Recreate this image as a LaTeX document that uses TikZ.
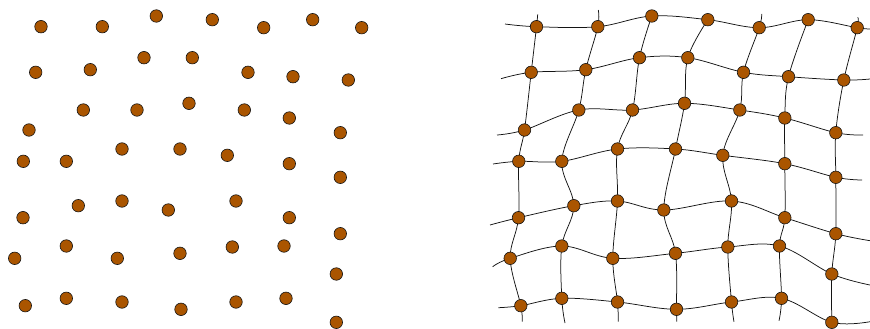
\documentclass[tikz,border=0pt]{standalone}
\usepackage{xcolor}
\usepackage{tikz}
\usetikzlibrary{backgrounds}
\definecolor{rust}{RGB}{170,85,0}
\definecolor{ink}{RGB}{20,20,20}
\tikzset{
  dot/.style  = {circle, draw=ink, fill=rust, minimum size=12.5pt,
                 inner sep=0pt, line width=0.6pt},
  mesh/.style = {draw=ink, line width=0.75pt},
}
% point set, one row per group (left picture positions)
\newcommand{\dotrows}{%
  {41/26.7, 102.3/26.7, 156.3/16, 212.3/19.7, 263.7/27.7, 312.7/19.7, 361.7/27.7},
  {35.7/72.3, 90.3/69.7, 144/57.7, 192.3/57.7, 248/72.3, 293/76.7, 348.3/80},
  {29/130, 83.3/110, 137/110, 189/103.3, 244.3/110, 289.3/118, 340.3/132.7},
  {23.3/161.3, 66.3/161.3, 122/149, 180/149, 227.3/155.3, 289.3/163.7, 340.3/177.3},
  {23/217.7, 78.3/205.7, 122/201, 168.3/210, 236/201, 289.3/217.7, 340.3/233.7},
  {14.7/258.3, 66.3/246, 117.3/258.3, 180/253.3, 232.3/247, 284/246, 336.3/274},
  {25.3/305.7, 66.3/298.3, 122/302, 181/309.3, 236/302, 286/298.3, 336.3/322.3}}

\begin{document}
\begin{tikzpicture}[x=1pt, y=-1pt]
\useasboundingbox (0,0) rectangle (870,329);

% Left: scattered points
\foreach \row [count=\r] in \dotrows {
  \foreach \x/\y [count=\c] in \row {
    \node[dot] (l-\r-\c) at (\x,\y) {};
  }
}

% Right: same points, joined into a deformed mesh
\foreach \row [count=\r] in \dotrows {
  \foreach \x/\y [count=\c] in \row {
    \node[dot] (g-\r-\c) at (\x+495.5,\y) {};
  }
}

% loose ends of the mesh lines
\coordinate (row1-w) at (505,24);    \coordinate (row1-e) at (870,29);
\coordinate (row2-w) at (501,78.7);  \coordinate (row2-e) at (870,79);
\coordinate (row3-w) at (497,135);   \coordinate (row3-e) at (863,135);
\coordinate (row4-w) at (493,164);   \coordinate (row4-e) at (862,180);
\coordinate (row5-w) at (490,225);   \coordinate (row5-e) at (870,240.7);
\coordinate (row6-w) at (492.7,266.7); \coordinate (row6-e) at (870,285);
\coordinate (row7-w) at (498.3,307.7); \coordinate (row7-e) at (870,321.7);
\coordinate (col1-n) at (537.7,14.3); \coordinate (col1-s) at (522.3,321.7);
\coordinate (col2-n) at (598.3,10);   \coordinate (col2-s) at (565,323);
\coordinate (col3-s) at (618.3,321.7);
\coordinate (col4-s) at (676.7,321.7);
\coordinate (col5-n) at (761.7,14);   \coordinate (col5-s) at (734,321.7);
\coordinate (col6-s) at (779,320.7);
\coordinate (col7-n) at (857.7,17.3);

\begin{scope}[on background layer, tension=0.6]
\foreach \r in {1,...,7}{
  \draw[mesh] plot[smooth] coordinates {(row\r-w) (g-\r-1) (g-\r-2) (g-\r-3)
    (g-\r-4) (g-\r-5) (g-\r-6) (g-\r-7) (row\r-e)};
}
\draw[mesh] plot[smooth] coordinates {(col1-n) (g-1-1) (g-2-1) (g-3-1) (g-4-1) (g-5-1) (g-6-1) (g-7-1) (col1-s)};
\draw[mesh] plot[smooth] coordinates {(col2-n) (g-1-2) (g-2-2) (g-3-2) (g-4-2) (g-5-2) (g-6-2) (g-7-2) (col2-s)};
\draw[mesh] plot[smooth] coordinates {(g-1-3) (g-2-3) (g-3-3) (g-4-3) (g-5-3) (g-6-3) (g-7-3) (col3-s)};
\draw[mesh] plot[smooth] coordinates {(g-1-4) (g-2-4) (g-3-4) (g-4-4) (g-5-4) (g-6-4) (g-7-4) (col4-s)};
\draw[mesh] plot[smooth] coordinates {(col5-n) (g-1-5) (g-2-5) (g-3-5) (g-4-5) (g-5-5) (g-6-5) (g-7-5) (col5-s)};
\draw[mesh] plot[smooth] coordinates {(g-1-6) (g-2-6) (g-3-6) (g-4-6) (g-5-6) (g-6-6) (g-7-6) (col6-s)};
\draw[mesh] plot[smooth] coordinates {(col7-n) (g-1-7) (g-2-7) (g-3-7) (g-4-7) (g-5-7) (g-6-7) (g-7-7)};
\end{scope}
\end{tikzpicture}
\end{document}
